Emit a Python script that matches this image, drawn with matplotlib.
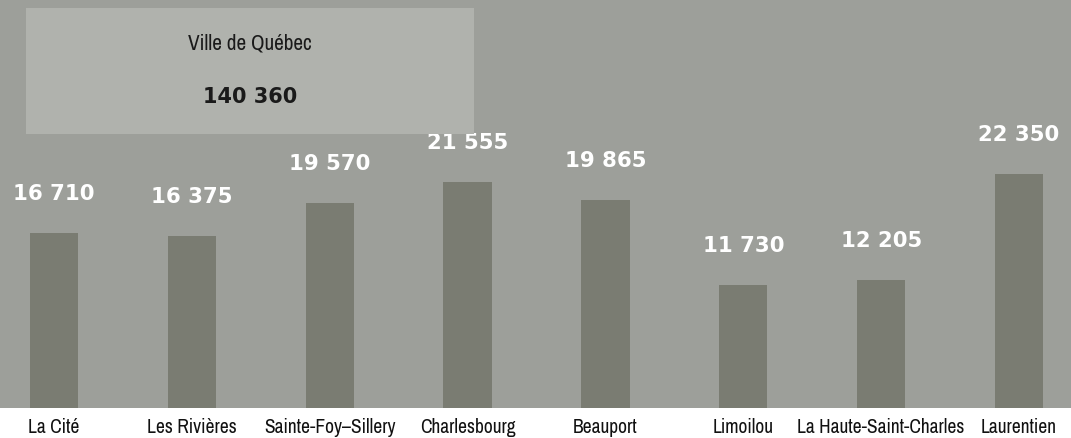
import matplotlib
matplotlib.use("Agg")
import matplotlib.pyplot as plt
from matplotlib.patches import Rectangle
from matplotlib import font_manager

categories = ["La Cité", "Les Rivières", "Sainte-Foy–Sillery", "Charlesbourg",
              "Beauport", "Limoilou", "La Haute-Saint-Charles", "Laurentien"]
values = [16710, 16375, 19570, 21555, 19865, 11730, 12205, 22350]
value_labels = ["16 710", "16 375", "19 570", "21 555", "19 865", "11 730", "12 205", "22 350"]
total_title = "Ville de Québec"
total_label = "140 360"

bg = "#9d9f9a"
bar_color = "#7a7c72"
box_color = "#b0b2ad"

# pick a condensed family for the district names when one is installed
names = sorted({f.name for f in font_manager.fontManager.ttflist})
narrow = next((n for n in names if "Condensed" in n or "Narrow" in n), "Roboto")
narrow_stretch = "condensed"

fig = plt.figure(figsize=(10.71, 4.38), dpi=100, facecolor="white")
ax = fig.add_axes([0, 30 / 438, 1, 408 / 438])
ax.set_facecolor(bg)

x = list(range(len(categories)))
ax.bar(x, values, width=0.35, color=bar_color, zorder=2)
ax.set_xlim(-0.392, 7.377)
ax.set_ylim(0, 38900)

for xi, v, lab in zip(x, values, value_labels):
    ax.annotate(lab, (xi, v), xytext=(0, 28), textcoords="offset points",
                ha="center", va="center", color="white", fontsize=15.3,
                fontweight="bold", family="DejaVu Sans")

ax.set_xticks(x)
ax.set_xticklabels(categories, family=narrow, fontsize=14, color="#111111",
                   fontstretch=narrow_stretch)
ax.tick_params(axis="x", length=0, pad=7)
ax.set_yticks([])
for s in ax.spines.values():
    s.set_visible(False)

box = Rectangle((26 / 1071, 1 - 134 / 408), 448 / 1071, 126 / 408,
                transform=ax.transAxes, facecolor=box_color, edgecolor="none", zorder=3)
ax.add_patch(box)
ax.text(250 / 1071, 1 - 43 / 408, total_title, transform=ax.transAxes, ha="center",
        va="center", fontsize=15.3, family=narrow, fontstretch=narrow_stretch,
        color="#1a1a1a", zorder=4)
ax.text(250 / 1071, 1 - 97 / 408, total_label, transform=ax.transAxes, ha="center",
        va="center", fontsize=15, fontweight="bold", family="DejaVu Sans",
        color="#1a1a1a", zorder=4)

fig.savefig("out.png", dpi=100, facecolor="white")
